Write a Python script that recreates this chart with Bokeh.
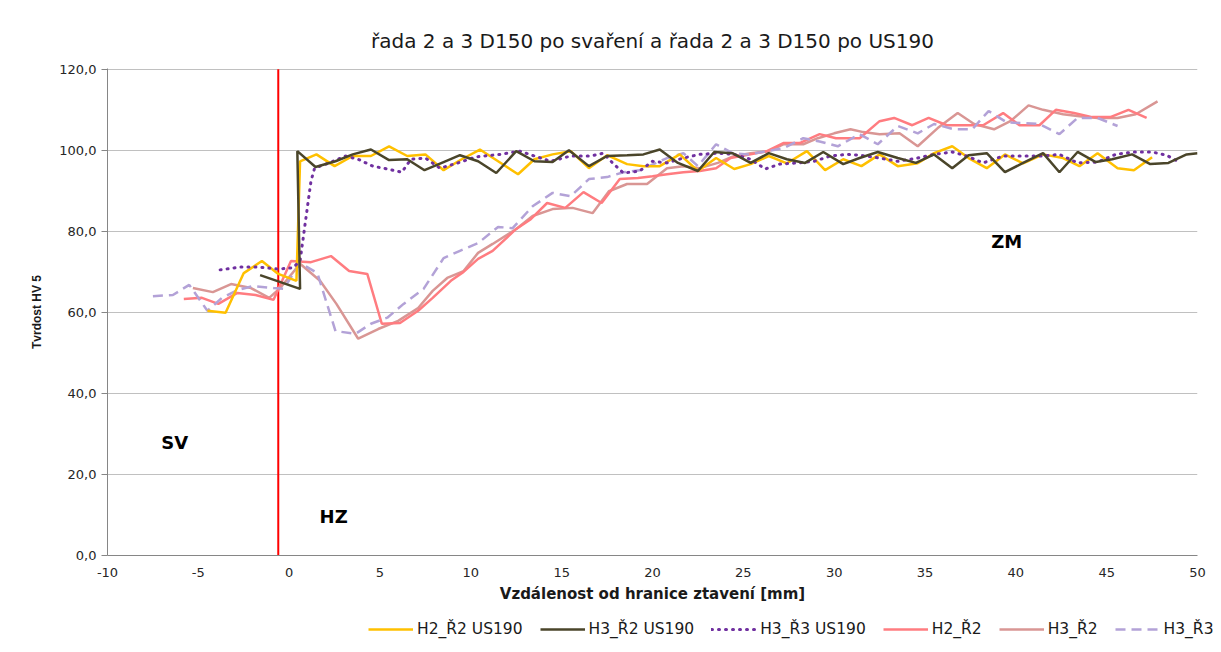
from bokeh.plotting import figure
from bokeh.models import (ColumnDataSource, Legend, LegendItem, FixedTicker,
                          CustomJSTickFormatter, Label, Title, Range1d)
from bokeh.embed import file_html
from bokeh.resources import INLINE

# ---------------- data ----------------
h2r2_us_x = [-4.5,-3.5,-2.5,-1.5,-0.6,0.4,0.6,1.5,2.5,3.5,4.5,5.5,6.5,7.5,8.5,9.5,10.5,11.5,12.6,13.5,
             14.5,15.5,16.5,17.5,18.6,19.5,20.4,21.5,22.5,23.5,24.5,25.4,26.4,27.4,28.5,29.5,30.5,31.5,32.5,33.5,
             34.6,35.5,36.5,37.4,38.4,39.4,40.4,41.5,42.6,43.5,44.5,45.6,46.5,47.5]
h2r2_us_y = [60.4,59.9,69.7,72.7,69.5,67.8,97.3,99.0,96.1,98.6,98.6,101.0,98.6,99.0,95.1,97.8,100.2,97.3,94.1,97.8,
             99.0,99.8,95.6,98.8,96.6,96.1,96.1,99.0,94.9,98.1,95.4,96.6,98.6,96.8,99.8,95.1,97.8,96.1,99.0,96.1,
             96.8,99.3,101.0,98.1,95.6,99.0,96.8,99.0,98.1,96.1,99.3,95.6,95.1,98.3]

h3r2_us_x = [-1.6,0.6,0.45,1.45,2.55,3.5,4.5,5.5,6.5,7.45,8.5,9.4,10.4,11.4,12.5,13.5,14.5,15.4,16.5,17.5,
             18.6,19.5,20.4,21.4,22.5,23.4,24.4,25.4,26.4,27.4,28.4,29.4,30.5,31.4,32.4,33.5,34.5,35.5,36.5,37.4,
             38.4,39.4,40.4,41.5,42.4,43.4,44.4,45.3,46.4,47.4,48.4,49.4,50.0]
h3r2_us_y = [69.2,65.8,99.8,95.9,97.3,99.0,100.2,97.6,97.8,95.1,97.1,98.8,97.3,94.4,99.8,97.3,97.1,100.0,96.1,98.6,
             98.8,99.0,100.2,96.9,94.9,99.6,99.3,96.9,99.3,97.8,96.9,99.6,96.6,98.1,99.6,98.1,96.9,99.0,95.6,98.8,
             99.3,94.6,96.9,99.3,94.6,99.6,97.1,97.8,99.0,96.6,96.9,99.0,99.3]

h3r3_us_x = [-3.8,-2.7,-1.7,-0.6,0.2,0.6,1.2,1.4,2.2,3.1,3.8,4.6,5.4,6.2,6.7,7.5,8.3,9.3,10.3,11.6,
             12.7,13.5,14.4,15.5,16.6,17.3,17.8,18.4,19.3,20.0,20.8,21.7,22.6,23.6,24.5,25.4,26.2,27.0,28.0,28.9,
             29.8,30.7,31.4,32.5,33.5,34.6,35.5,36.5,37.3,38.2,39.3,40.4,41.5,42.4,43.4,44.5,45.5,46.5,47.5,48.3,48.9]
h3r3_us_y = [70.5,71.2,71.2,70.7,71.0,72.7,92.4,95.6,96.9,98.6,97.8,96.1,95.4,94.6,97.8,98.1,95.6,96.9,98.4,99.0,
             99.8,98.6,97.3,98.6,98.6,99.3,96.9,94.4,94.9,97.3,96.9,98.1,99.0,99.3,99.0,97.8,95.4,96.6,96.9,97.3,
             98.6,99.0,98.8,98.1,97.3,98.1,99.0,99.6,98.6,96.9,98.6,98.6,98.6,99.0,96.9,97.1,99.0,99.6,99.6,98.8,97.3]

h2r2_x = [-5.8,-4.8,-3.9,-2.85,-1.85,-0.86,0.1,1.2,2.3,3.3,4.3,5.1,6.1,7.1,7.9,8.9,9.6,10.4,11.2,12.5,
          13.3,14.2,15.2,16.2,17.2,18.2,19.2,20.0,20.8,21.7,22.6,23.5,24.3,25.4,26.3,27.2,28.1,29.2,30.1,31.4,
          32.5,33.3,34.3,35.2,36.2,37.2,38.2,39.3,40.2,41.3,42.2,43.2,44.2,45.2,46.2,47.2]
h2r2_y = [63.3,63.6,62.1,64.8,64.3,63.1,72.7,72.4,73.9,70.2,69.5,57.2,57.4,60.4,63.6,67.8,70.0,73.2,75.2,80.6,
          83.0,87.0,85.8,89.7,87.0,92.9,93.2,93.6,94.1,94.6,94.9,95.6,98.1,99.0,99.8,101.8,101.8,104.0,103.0,103.0,
          107.2,108.0,106.2,108.0,106.2,106.2,106.2,109.2,106.2,106.2,110.0,109.2,108.2,108.2,110.0,108.0]

h3r2_x = [-5.3,-4.2,-3.2,-2.1,-1.1,-0.5,0.6,1.7,2.6,3.8,4.9,6.0,7.1,7.9,8.7,9.6,10.4,11.2,12.5,13.4,
          14.5,15.6,16.7,17.6,18.6,19.7,20.8,21.7,22.6,23.6,24.5,25.4,26.4,27.2,28.3,29.1,30.0,30.9,31.6,32.5,
          33.6,34.6,35.7,36.8,37.7,38.8,39.7,40.7,41.5,42.6,43.5,44.5,45.6,46.6,47.8]
h3r2_y = [66.0,65.0,67.0,66.0,63.6,66.0,72.0,67.8,62.1,53.5,55.9,57.9,61.1,65.3,68.5,70.2,74.7,76.9,80.6,83.8,
          85.5,85.8,84.5,89.9,91.7,91.7,95.6,96.1,95.6,96.9,98.6,99.3,99.8,101.5,101.5,103.0,104.2,105.2,104.5,104.0,
          104.2,101.0,105.5,109.2,106.5,105.2,107.2,111.1,110.0,108.9,108.4,108.0,108.0,108.9,112.1]

h3r3_x = [-7.5,-6.4,-5.5,-4.5,-3.7,-2.85,-2.0,-0.86,-0.3,0.6,1.55,2.55,3.65,4.5,5.4,6.3,7.4,8.5,9.4,10.4,
          11.5,12.3,13.4,14.5,15.5,16.5,17.5,18.4,19.3,20.8,21.7,22.5,23.5,24.4,25.3,26.3,27.2,28.3,29.2,30.2,
          31.4,32.4,33.5,34.6,35.5,36.6,37.6,38.5,39.5,40.5,41.3,42.4,43.4,44.5,45.6]
h3r3_y = [64.0,64.3,66.8,60.4,63.6,65.5,66.5,66.0,65.8,72.2,69.7,55.4,54.7,57.2,58.7,62.1,65.8,73.4,75.2,77.1,
          81.1,80.8,86.2,89.5,88.7,92.9,93.4,94.6,95.1,98.1,99.3,96.1,101.5,99.3,99.0,99.8,100.5,103.0,102.2,101.0,
          104.0,101.5,106.0,104.2,106.5,105.2,105.2,109.7,106.9,106.7,106.5,104.0,108.0,108.0,106.0]

series_names = ["H2_Ř2 US190", "H3_Ř2 US190", "H3_Ř3 US190", "H2_Ř2", "H3_Ř2", "H3_Ř3"]
fusion_boundary_x = [-0.6]
zone_labels = ["SV", "HZ", "ZM"]
zone_x = [-6.3, 2.45, 39.5]
zone_y = [27.8, 9.6, 77.6]
y_ticks = [0, 20, 40, 60, 80, 100, 120]
x_ticks = list(range(-10, 55, 5))

FONT = "DejaVu Sans"

p = figure(width=1213, height=612, x_range=(-10, 50), y_range=(0, 120.2),
           output_backend="svg", toolbar_location=None,
           min_border_left=107, min_border_right=16, min_border_top=68, min_border_bottom=57)
p.outline_line_color = None
p.background_fill_color = "white"

p.title = Title(text="řada 2 a 3 D150 po svaření a řada 2 a 3 D150 po US190", align="center",
                text_font=FONT, text_font_size="20px", text_font_style="normal", text_color="#1a1a1a",
                standoff=31)

# axes
p.xaxis.ticker = FixedTicker(ticks=x_ticks)
p.xaxis.formatter = CustomJSTickFormatter(code="return tick.toFixed(0);")
p.yaxis.ticker = FixedTicker(ticks=y_ticks)
p.yaxis.formatter = CustomJSTickFormatter(code="return tick.toFixed(1).replace('.', ',');")
for ax in (p.xaxis[0], p.yaxis[0]):
    ax.axis_line_color = "#868686"
    ax.major_tick_line_color = "#868686"
    ax.minor_tick_line_color = None
    ax.major_label_text_font = FONT
    ax.major_label_text_font_size = "13px"
    ax.major_label_text_color = "#262626"
    ax.axis_label_text_font_style = "bold"
    ax.axis_label_text_color = "#1a1a1a"
p.yaxis.major_tick_out = 6
p.yaxis.major_tick_in = 0
p.yaxis.major_label_standoff = 5
p.yaxis.axis_label = "Tvrdost HV 5"
p.yaxis.axis_label_text_font = "Liberation Sans"
p.yaxis.axis_label_text_font_size = "12px"
p.yaxis.axis_label_standoff = 12
p.xaxis.major_tick_out = 0
p.xaxis.major_tick_in = 0
p.xaxis.major_label_standoff = 12
p.xaxis.axis_label = "Vzdálenost od hranice ztavení [mm]"
p.xaxis.axis_label_text_font = FONT
p.xaxis.axis_label_text_font_size = "15px"
p.xaxis.axis_label_standoff = 5

p.xgrid.grid_line_color = None
p.ygrid.grid_line_color = "#c0c0c0"
p.ygrid.grid_line_width = 1

# fusion boundary line
p.segment(x0=fusion_boundary_x, y0=[0], x1=fusion_boundary_x, y1=[120], line_color="#ff0000", line_width=2)

styles = [
    dict(line_color="#FFC000", line_width=2.5),
    dict(line_color="#4A452A", line_width=2.5),
    dict(line_color="#7030A0", line_width=3, line_dash="1 6", line_cap="round"),
    dict(line_color="#FF7C80", line_width=2.5),
    dict(line_color="#D99694", line_width=2.5),
    dict(line_color="#B3A2D7", line_width=2.5, line_dash="10 6"),
]
data = [(h2r2_us_x, h2r2_us_y), (h3r2_us_x, h3r2_us_y), (h3r3_us_x, h3r3_us_y),
        (h2r2_x, h2r2_y), (h3r2_x, h3r2_y), (h3r3_x, h3r3_y)]

order = [4, 3, 5, 0, 2, 1]  # drawing order
for i in order:
    xs, ys = data[i]
    src = ColumnDataSource(dict(x=xs, y=ys))
    p.line("x", "y", source=src, **styles[i])

for t, xx, yy in zip(zone_labels, zone_x, zone_y):
    p.add_layout(Label(x=xx, y=yy, text=t, text_font=FONT, text_font_size="18px",
                       text_font_style="bold", text_align="center", text_baseline="middle",
                       text_color="#000000"))

# ---- legend strip below the chart (separate root, so no frame alignment) ----
lf = figure(width=1213, height=32, x_range=Range1d(0, 1), y_range=Range1d(0, 1),
            output_backend="svg", toolbar_location=None,
            min_border_left=0, min_border_right=0, min_border_top=0, min_border_bottom=0)
lf.outline_line_color = None
lf.axis.visible = False
lf.grid.visible = False
items = []
for i in range(6):
    # legend proxies placed outside the visible range
    r = lf.line(x=[-2, -1], y=[-2, -2], **styles[i])
    items.append(LegendItem(label=series_names[i], renderers=[r]))
legend = Legend(items=items, orientation="horizontal", location=(368, 6),
                label_text_font=FONT, label_text_font_size="15.5px", label_text_color="#1a1a1a",
                glyph_width=45, glyph_height=18, label_standoff=4, spacing=17,
                padding=0, margin=0, border_line_color=None, background_fill_alpha=0)
lf.add_layout(legend, "center")

open("out.html", "w").write(file_html([p, lf], INLINE))
